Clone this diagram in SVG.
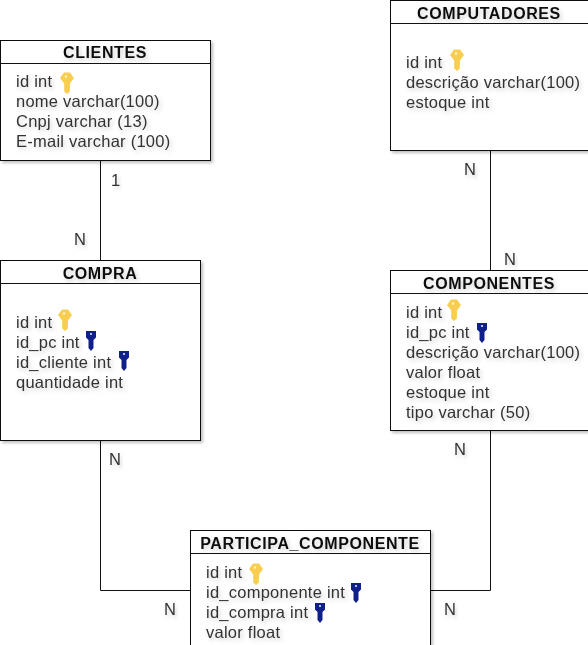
<svg xmlns="http://www.w3.org/2000/svg" width="588" height="645" viewBox="0 0 588 645">
<style>
text{font-family:"Liberation Sans",Arial,sans-serif;font-size:16.5px;letter-spacing:.25px;fill:#333;filter:url(#ts)}
.t{font-weight:bold;font-size:16px;letter-spacing:.6px;fill:#111;text-anchor:middle}
.b{fill:#fff;stroke:#111;stroke-width:1;filter:url(#sh)}
.h{fill:none;stroke:#111;stroke-width:1}
.c{fill:none;stroke:#111;stroke-width:1}
</style>
<defs>
<filter id="ts" x="-10%" y="-30%" width="120%" height="170%"><feDropShadow dx="2" dy="2.500" stdDeviation="2" flood-color="#000" flood-opacity=".18"/></filter>
<filter id="sh" x="-5%" y="-5%" width="110%" height="110%"><feDropShadow dx="2" dy="2" stdDeviation="1.500" flood-color="#000" flood-opacity=".25"/></filter>
<g id="pk"><path d="M-7-5L-3-10.500H3L7-5L3 0.500L2.800 8.500L0 11L-2.800 8.500V0.500Z" fill="#f8ce52"/><circle cx="-1" cy="-6.500" r="1.200" fill="#fff3c0"/></g>
<g id="fk"><path d="M-5-10H5V-3.500L2.500-1V7L0 10L-2.500 7V-1L-5-3.500Z" fill="#10208a"/><circle cx="0" cy="-7" r="1.100" fill="#dfe6ff"/></g>
</defs>
<g id="connectors">
<path class="c" d="M100.500 160V260"/>
<path class="c" d="M490.500 150V270"/>
<path class="c" d="M100.500 440V590.500H190"/>
<path class="c" d="M490.500 430V590.500H431"/>
<text x="111" y="186">1</text>
<text x="74" y="245">N</text>
<text x="464" y="175">N</text>
<text x="504" y="265">N</text>
<text x="109" y="465">N</text>
<text x="454" y="455">N</text>
<text x="164" y="615">N</text>
<text x="444" y="615">N</text>
</g>
<g id="clientes">
<rect class="b" x="0.500" y="40.500" width="210" height="120"/>
<path class="h" d="M0 63.500H210"/>
<text class="t" x="105" y="58">CLIENTES</text>
<text x="16" y="87">id int</text><use href="#pk" x="67" y="83"/>
<text x="16" y="107">nome varchar(100)</text>
<text x="16" y="127">Cnpj varchar (13)</text>
<text x="16" y="147">E-mail varchar (100)</text>
</g>
<g id="computadores">
<rect class="b" x="390.500" y="0.500" width="209" height="150"/>
<path class="h" d="M390 23.500H588"/>
<text class="t" x="489" y="19">COMPUTADORES</text>
<text x="406" y="68">id int</text><use href="#pk" x="457" y="60"/>
<text x="406" y="88">descrição varchar(100)</text>
<text x="406" y="108">estoque int</text>
</g>
<g id="compra">
<rect class="b" x="0.500" y="260.500" width="200" height="180"/>
<path class="h" d="M0 283.500H200"/>
<text class="t" x="100" y="279">COMPRA</text>
<text x="16" y="328">id int</text><use href="#pk" x="65" y="320"/>
<text x="16" y="348">id_pc int</text><use href="#fk" x="91" y="341"/>
<text x="16" y="368">id_cliente int</text><use href="#fk" x="124" y="361"/>
<text x="16" y="388">quantidade int</text>
</g>
<g id="componentes">
<rect class="b" x="390.500" y="270.500" width="209" height="160"/>
<path class="h" d="M390 293.500H588"/>
<text class="t" x="489" y="289">COMPONENTES</text>
<text x="406" y="318">id int</text><use href="#pk" x="454" y="310"/>
<text x="406" y="338">id_pc int</text><use href="#fk" x="482" y="333"/>
<text x="406" y="358">descrição varchar(100)</text>
<text x="406" y="378">valor float</text>
<text x="406" y="398">estoque int</text>
<text x="406" y="418">tipo varchar (50)</text>
</g>
<g id="participa_componente">
<rect class="b" x="190.500" y="530.500" width="240" height="130"/>
<path class="h" d="M190 553.500H430"/>
<text class="t" x="310" y="549">PARTICIPA_COMPONENTE</text>
<text x="206" y="578">id int</text><use href="#pk" x="256" y="574"/>
<text x="206" y="598">id_componente int</text><use href="#fk" x="356" y="593"/>
<text x="206" y="618">id_compra int</text><use href="#fk" x="320" y="613"/>
<text x="206" y="638">valor float</text>
</g>
</svg>
